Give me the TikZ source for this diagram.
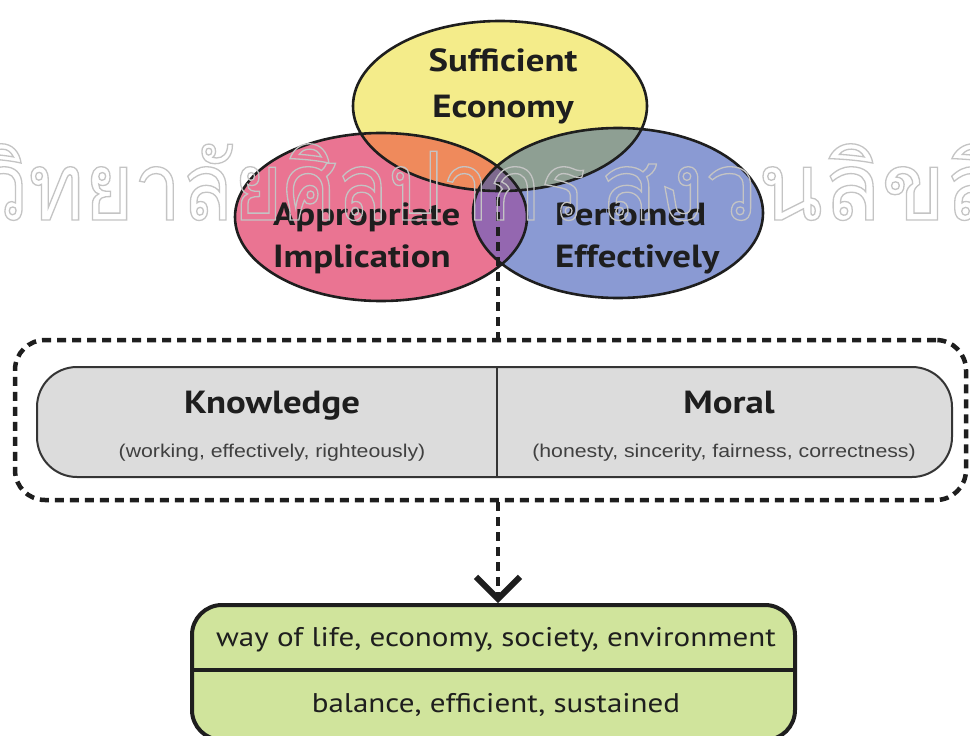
\documentclass[tikz,border=0pt]{standalone}
\usepackage{fontspec}
\setmainfont{PT Sans}[FakeStretch=1.15]
\newfontfamily\notefont[FakeStretch=1.15]{Liberation Sans}
\newfontfamily\thaiwm[Script=Thai]{Loma}
\newfontfamily\thaiwmnarrow[Script=Thai,FakeStretch=0.89]{Loma}
\usetikzlibrary{calc,arrows.meta}

\definecolor{yel}{HTML}{F4EC8A}
\definecolor{pnk}{HTML}{EA7492}
\definecolor{blu}{HTML}{8A9AD3}
\definecolor{org}{HTML}{EF8A5C}
\definecolor{ygb}{HTML}{8E9F93}
\definecolor{pur}{HTML}{9467B0}
\definecolor{tri}{HTML}{7E6A8F}
\definecolor{boxgray}{HTML}{DCDCDC}
\definecolor{boxgreen}{HTML}{D0E49C}
\definecolor{ink}{HTML}{1E1E1E}
\definecolor{wmgray}{HTML}{C4C4C4}

% the three circles of the philosophy
\newcommand\ellY{(500,106) ellipse [x radius=147pt, y radius=85pt]}
\newcommand\ellP{(381,217) ellipse [x radius=146pt, y radius=84pt]}
\newcommand\ellB{(618,213) ellipse [x radius=145pt, y radius=85pt]}

% hollow (stroked) lettering
\newcommand\hollow[1]{\special{pdf:literal direct 1 Tr 1.3 w}#1\special{pdf:literal direct 0 Tr}}

\tikzset{
  circlabel/.style={font=\bfseries\fontsize{32}{32}\selectfont, text=ink, inner sep=0pt},
  head/.style={font=\bfseries\fontsize{32}{32}\selectfont, text=ink, inner sep=0pt},
  note/.style={font=\notefont\fontsize{18.5}{18.5}\selectfont, text=ink!85, inner sep=0pt},
  outcome/.style={font=\fontsize{27}{27}\selectfont, text=ink, inner sep=0pt},
  dashline/.style={draw=ink, line width=4.5pt, dash pattern=on 9pt off 6pt},
  dashframe/.style={draw=ink, line width=4.5pt, dash pattern=on 9pt off 6pt, rounded corners=30pt, inner sep=0pt},
  graybox/.style={draw=ink!90, fill=boxgray, line width=2pt, rounded corners=40pt, inner sep=0pt},
  greenbox/.style={draw=ink, fill=boxgreen, line width=4pt, rounded corners=30pt, inner sep=0pt},
  watermark/.style={font=\thaiwm\fontsize{95}{95}\selectfont, text=wmgray, inner sep=0pt},
  watermarknarrow/.style={font=\thaiwmnarrow\fontsize{95}{95}\selectfont, text=wmgray, inner sep=0pt},
}

\begin{document}
\begin{tikzpicture}[x=1pt, y=-1pt]
\useasboundingbox (0,0) rectangle (970,736);
\fill[white] (0,0) rectangle (970,736);

% --- overlapping circles ---
\fill[yel] \ellY;
\fill[pnk] \ellP;
\fill[blu] \ellB;
\begin{scope}
  \clip \ellP;
  \fill[pur] \ellB;
\end{scope}
\begin{scope}
  \clip \ellY;
  \fill[org] \ellP;
  \fill[ygb] \ellB;
  \clip \ellP;
  \fill[tri] \ellB;
\end{scope}
\draw[ink, line width=2.6pt] \ellY \ellP \ellB;

\node[circlabel, anchor=base] (suff) at (503,71) {Sufficient};
\node[circlabel, anchor=base] (econ) at (503,117) {Economy};
\node[circlabel, anchor=base west] (appr) at (273,225) {Appropriate};
\node[circlabel, anchor=base west] (impl) at (273,267) {Implication};
\node[circlabel, anchor=base west] (perf) at (555,225) {Perfomed};
\node[circlabel, anchor=base west] (effe) at (555,267) {Effectively};

% --- knowledge and moral ---
\node[dashframe, minimum width=951pt, minimum height=160pt] (frame) at (490.5,420) {};
\node[graybox, minimum width=915pt, minimum height=110pt] (pillars) at (494.5,422) {};
\coordinate (split) at (497,422);
\draw[ink!90, line width=2pt] (split |- pillars.north) -- (split |- pillars.south);

\node[head, anchor=base] (know) at (272,413) {Knowledge};
\node[note, anchor=base] (knownote) at (272,457) {(working, effectively, righteously)};
\node[head, anchor=base] (moral) at (729,413) {Moral};
\node[note, anchor=base] (moralnote) at (724,457) {(honesty, sincerity, fairness, correctness)};

% --- outcome ---
\node[greenbox, minimum width=603pt, minimum height=135pt] (result) at (493.5,672.5) {};
\coordinate (mid) at (493.5,670);
\draw[ink, line width=3.5pt] (result.west |- mid) -- (result.east |- mid);
\node[outcome, anchor=base] (scope) at (496,646) {way of life, economy, society, environment};
\node[outcome, anchor=base] (quality) at (496,712) {balance, efficient, sustained};

% --- connectors ---
\coordinate (lens) at (498,182);
\draw[dashline] (lens) -- (lens |- frame.north);
\draw[dashline, -{Straight Barb[length=22pt, width=44pt, line width=6pt]}]
  (lens |- frame.south) -- (lens |- result.north);

% --- hollow lettering across the circles ---
\begin{scope}
  \clip (0,0) rectangle (970,736);
  \node[watermarknarrow, anchor=base east] (wmleft) at (586,220) {\hollow{มหาวิทยาลัยศิลปากร}};
  \node[watermark, anchor=base west] (wmright) at (600,220) {\hollow{สงวนลิขสิทธิ์}};
\end{scope}
\end{tikzpicture}
\end{document}
